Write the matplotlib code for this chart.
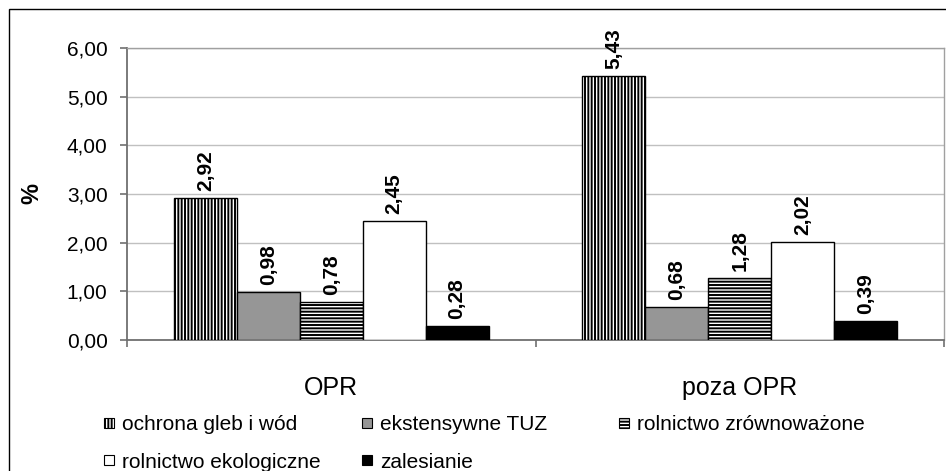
import matplotlib
matplotlib.use('Agg')
import matplotlib.pyplot as plt
from matplotlib.patches import Rectangle

plt.rcParams['font.family'] = ['Liberation Sans', 'DejaVu Sans']
plt.rcParams['hatch.linewidth'] = 1.4

# data
categories = ['OPR', 'poza OPR']
series = ['ochrona gleb i wód', 'ekstensywne TUZ', 'rolnictwo zrównoważone',
          'rolnictwo ekologiczne', 'zalesianie']
values = {
    'ochrona gleb i wód': [2.92, 5.43],
    'ekstensywne TUZ': [0.98, 0.68],
    'rolnictwo zrównoważone': [0.78, 1.28],
    'rolnictwo ekologiczne': [2.45, 2.02],
    'zalesianie': [0.28, 0.39],
}
yticks = [0, 1, 2, 3, 4, 5, 6]

# look of each series
fills = ['white', '#969696', 'white', 'white', 'black']
hatches = ['|||||', None, '-----', None, None]

W, H = 946, 471
fig = plt.figure(figsize=(W / 100, H / 100), dpi=100)
ax = fig.add_axes([127 / W, 1 - 340 / H, (944 - 127) / W, (340 - 48) / H])

bw = 63 / 409
x = [0, 1]
for i, name in enumerate(series):
    off = (i - 2) * bw
    pos = [xi + off for xi in x]
    bars = ax.bar(pos, values[name], width=bw, color=fills[i], hatch=hatches[i],
                  edgecolor='black', linewidth=1.0, zorder=3)
    for b, v in zip(bars, values[name]):
        ax.annotate(f'{v:.2f}'.replace('.', ','),
                    (b.get_x() + b.get_width() / 2, v),
                    xytext=(0, 5), textcoords='offset points',
                    rotation=90, ha='center', va='bottom',
                    fontsize=15, fontweight='bold', annotation_clip=False)

ax.set_xlim(-0.5, 1.5)
ax.set_ylim(0, 6)
ax.set_yticks(yticks)
ax.set_yticklabels([f'{t:.2f}'.replace('.', ',') for t in yticks], fontsize=15)
ax.set_xticks(x)
ax.set_xticklabels(categories, fontsize=18)
ax.set_xticks([-0.5, 0.5, 1.5], minor=True)
ax.tick_params(axis='x', which='major', length=0, pad=26)
ax.tick_params(axis='x', which='minor', length=5, width=1.2, color='#707070')
ax.tick_params(axis='y', length=5, width=1.2, color='#707070', pad=9)

ax.grid(axis='y', color='#c0c0c0', linewidth=1.0, zorder=0)
ax.set_axisbelow(True)
for s in ['left', 'bottom']:
    ax.spines[s].set_color('#707070')
    ax.spines[s].set_linewidth(1.3)
ax.spines['right'].set_color('#a0a0a0')
ax.spines['right'].set_linewidth(1.0)
ax.spines['top'].set_color('#a0a0a0')
ax.spines['top'].set_linewidth(1.0)

fig.text(32 / W, 1 - 193 / H, '%', rotation=90, ha='center', va='center',
         fontsize=17, fontweight='bold')

# outer chart frame (right and bottom cut off)
fig.add_artist(Rectangle((9 / W, -0.05), 1.2, 1.05 - 9 / H, transform=fig.transFigure,
                         fill=False, edgecolor='black', linewidth=1.0))

# legend
leg_pos = [(104, 423), (362, 423), (619, 423), (104, 460), (362, 460)]
for i, name in enumerate(series):
    lx, ly = leg_pos[i]
    fig.add_artist(Rectangle((lx / W, 1 - (ly + 5) / H), 10 / W, 10 / H,
                             transform=fig.transFigure, facecolor=fills[i],
                             hatch=hatches[i], edgecolor='black', linewidth=0.8))
    fig.text((lx + 18) / W, 1 - ly / H, name, ha='left', va='center_baseline',
             fontsize=15)

fig.savefig('out.png', dpi=100)
